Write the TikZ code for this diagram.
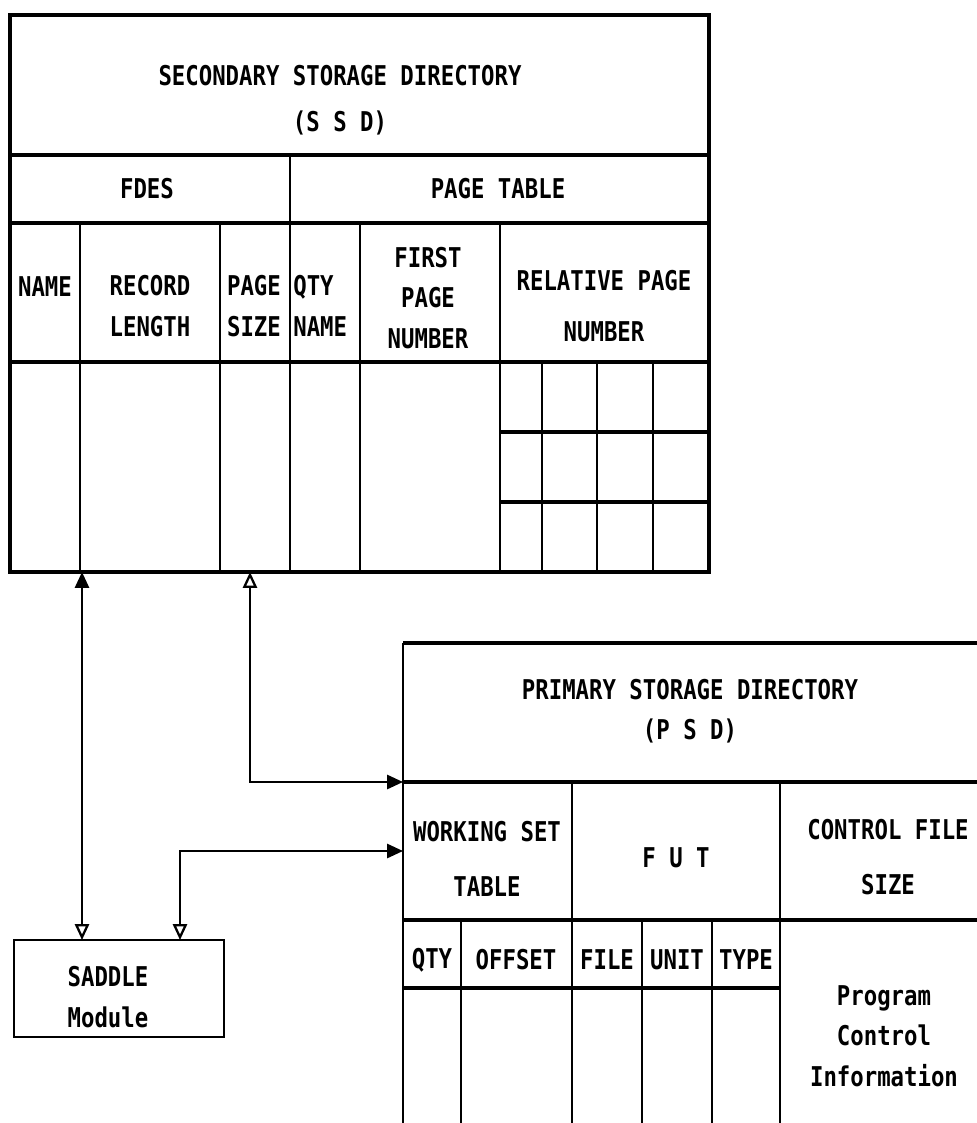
\documentclass[tikz,border=0pt]{standalone}
\usepackage{fontspec}
\newfontfamily\plotfont[FakeStretch=0.82]{DejaVu Sans Mono}
\usetikzlibrary{arrows.meta}

\begin{document}
\begin{tikzpicture}[x=0.02cm, y=-0.02cm,
    lbl/.style={font=\plotfont\bfseries\fontsize{15.5}{23}\selectfont, align=center, inner sep=0pt},
    hl/.style={line width=1.9pt},
    vl/.style={line width=1.2pt},
    box/.style={draw, line width=1.6pt, minimum width=4.2cm, minimum height=1.94cm, inner sep=0pt},
    conn/.style={line width=1.3pt},
    tipO/.style={{Triangle[open,length=9pt,width=8pt]}-{Triangle[length=9pt,width=8pt]}}
]
    \useasboundingbox (0,0) rectangle (977,1123);

    % secondary storage directory
    \draw[hl] (10,15) rectangle (709,572);
    \draw[hl] (10,155) -- (709,155);
    \draw[hl] (10,223) -- (709,223);
    \draw[hl] (10,362) -- (709,362);
    \draw[vl] (290,155) -- (290,572);
    \foreach \x in {80,220,360,500} \draw[vl] (\x,223) -- (\x,572);
    \foreach \x in {542,597,653} \draw[vl] (\x,362) -- (\x,572);
    \foreach \y in {432,502} \draw[hl] (500,\y) -- (709,\y);

    \node[lbl] (ssd) at (340,100) {SECONDARY STORAGE DIRECTORY\\[3pt](S S D)};
    \node[lbl] (fdes) at (147,189) {FDES};
    \node[lbl] (ptab) at (498,189) {PAGE TABLE};
    \node[lbl] (name) at (45,287) {NAME};
    \node[lbl] (rlen) at (150,306) {RECORD\\LENGTH};
    \node[lbl] (psize) at (254,306) {PAGE\\SIZE};
    \node[lbl, align=left, anchor=west] (qname) at (293,306) {QTY\\NAME};
    \node[lbl] (fpage) at (428,298) {FIRST\\PAGE\\NUMBER};
    \node[lbl] (rpage) at (604,306) {RELATIVE PAGE\\[6pt]NUMBER};

    % primary storage directory
    \draw[hl] (403,643) -- (977,643);
    \draw[vl] (403,643) -- (403,1123);
    \draw[hl] (403,782) -- (977,782);
    \draw[hl] (403,920) -- (977,920);
    \draw[hl] (403,988) -- (780,988);
    \draw[vl] (572,782) -- (572,1123);
    \draw[vl] (780,782) -- (780,1123);
    \foreach \x in {461,642,712} \draw[vl] (\x,920) -- (\x,1123);

    \node[lbl] (psd) at (690,711) {PRIMARY STORAGE DIRECTORY\\(P S D)};
    \node[lbl] (wset) at (487,859) {WORKING SET\\[8pt]TABLE};
    \node[lbl] (fut) at (676,858) {F U T};
    \node[lbl] (cfs) at (888,857) {CONTROL FILE\\[8pt]SIZE};
    \node[lbl] (qty) at (432,960) {QTY};
    \node[lbl] (offs) at (516,960) {OFFSET};
    \node[lbl] (file) at (607,960) {FILE};
    \node[lbl] (unit) at (677,960) {UNIT};
    \node[lbl] (type) at (746,960) {TYPE};
    \node[lbl] (pci) at (884,1036) {Program\\Control\\Information};

    % saddle module
    \node[box] (saddle) at (119,988.5) {};
    \node[lbl] (sadtxt) at (108,997) {SADDLE\\Module};

    \coordinate (ssdA) at (82,572);
    \coordinate (ssdB) at (250,572);
    \coordinate (psdA) at (403,782);
    \coordinate (psdB) at (403,851);
    \coordinate (sadA) at (82,940);
    \coordinate (sadB) at (180,940);

    \draw[conn, tipO] (sadA) -- (ssdA);
    \draw[conn, tipO] (ssdB) |- (psdA);
    \draw[conn, tipO] (sadB) |- (psdB);
\end{tikzpicture}
\end{document}
